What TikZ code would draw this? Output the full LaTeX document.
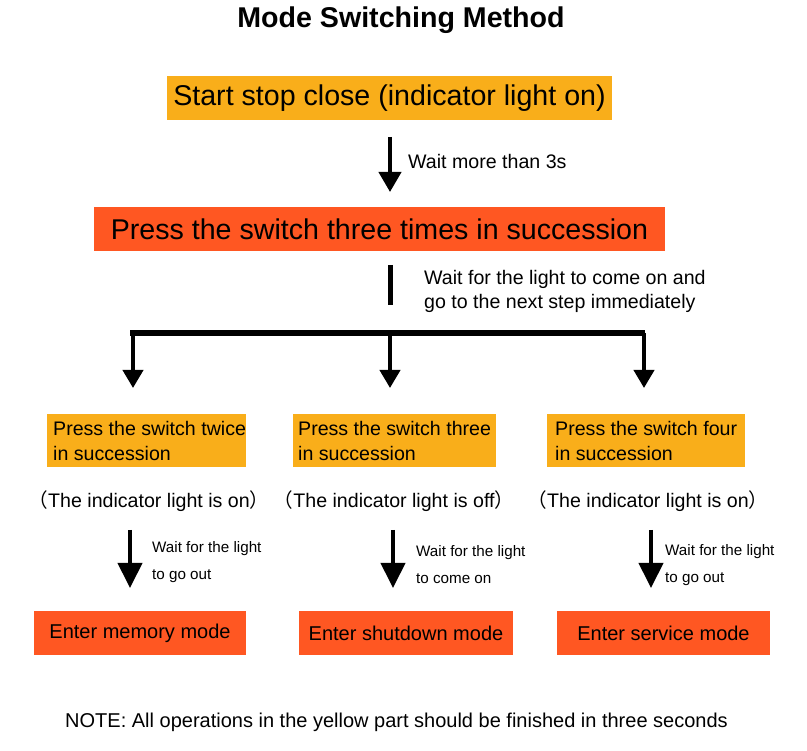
\documentclass[tikz,border=0pt]{standalone}
\usepackage{fontspec}
\setmainfont{Liberation Sans}
\newfontfamily\cjk{Noto Sans CJK SC}
\usetikzlibrary{arrows.meta}
\definecolor{boxyellow}{RGB}{249,174,26}
\definecolor{boxred}{RGB}{255,87,34}
\begin{document}
\begin{tikzpicture}[x=1pt,y=-1pt,
  big/.style={font=\fontsize{28.6}{34}\selectfont},
  med/.style={font=\fontsize{19.6}{24}\selectfont},
  medbox/.style={font=\fontsize{19.6}{25}\selectfont},
  sm/.style={font=\fontsize{15.2}{27}\selectfont},
  bigbox/.style={inner sep=0pt, minimum height=44pt, big},
  ybox/.style={fill=boxyellow, inner sep=0pt, minimum height=53pt},
  rbox/.style={fill=boxred, inner sep=0pt, minimum height=44pt, font=\fontsize{20}{24}\selectfont},
  lbl/.style={anchor=west, inner sep=0pt, align=left},
  arrA/.style={line width=4pt, -{Triangle[width=22pt,length=20pt]}},
  arrB/.style={line width=4pt, -{Triangle[width=20pt,length=18pt]}},
  arrC/.style={line width=4pt, -{Triangle[width=24pt,length=25pt]}}
]
\useasboundingbox (0,0) rectangle (807,751);

% title
\node[inner sep=0pt, font=\fontsize{28.6}{34}\selectfont\bfseries] (title) at (401,20) {Mode Switching Method};

% top boxes
\node[bigbox, fill=boxyellow, minimum width=445pt] (b1) at (389.5,98) {Start stop close (indicator light on)};
\node[bigbox, fill=boxred, minimum width=571pt] (b2) at (379.5,229) {Press the switch three times in succession};

% arrow 1
\coordinate (a1s) at (390,137);
\coordinate (a1e) at (390,192);
\draw[arrA] (a1s) -- (a1e);
\node[lbl, med] (l1) at (408,161) {Wait more than 3s};

% bar
\coordinate (bar1) at (390,265);
\coordinate (bar2) at (390,305);
\draw[line width=5pt] (bar1) -- (bar2);
\node[lbl, med] (l2) at (424,291) {Wait for the light to come on and\\go to the next step immediately};

% split
\coordinate (hL) at (130,333);
\coordinate (hR) at (645,333);
\draw[line width=6pt] (hL) -- (hR);
\coordinate (s1) at (133,333);
\coordinate (s2) at (390,333);
\coordinate (s3) at (644,333);
\coordinate (e1) at (133,388);
\coordinate (e2) at (390,388);
\coordinate (e3) at (644,388);
\draw[arrB] (s1) -- (e1);
\draw[arrB] (s2) -- (e2);
\draw[arrB] (s3) -- (e3);

% yellow boxes
\node[ybox, minimum width=199pt] (y1) at (146.5,440.5) {};
\node[ybox, minimum width=203pt] (y2) at (394.5,440.5) {};
\node[ybox, minimum width=198pt] (y3) at (646,440.5) {};
\node[lbl, medbox] (y1t) at (53,441) {Press the switch twice\\in succession};
\node[lbl, medbox] (y2t) at (298,441) {Press the switch three\\in succession};
\node[lbl, medbox] (y3t) at (555,441) {Press the switch four\\in succession};

% status
\node[med, inner sep=0pt] (p1) at (149,501) {{\cjk （}The indicator light is on{\cjk ）}};
\node[med, inner sep=0pt] (p2) at (394,501) {{\cjk （}The indicator light is off{\cjk ）}};
\node[med, inner sep=0pt] (p3) at (648,501) {{\cjk （}The indicator light is on{\cjk ）}};

% bottom arrows
\coordinate (t1) at (130,530);
\coordinate (t2) at (393,530);
\coordinate (t3) at (651,530);
\coordinate (u1) at (130,588);
\coordinate (u2) at (393,588);
\coordinate (u3) at (651,588);
\draw[arrC] (t1) -- (u1);
\draw[arrC] (t2) -- (u2);
\draw[arrC] (t3) -- (u3);
\node[lbl, sm] (w1) at (152,562) {Wait for the light\\to go out};
\node[lbl, sm] (w2) at (416,565) {Wait for the light\\to come on};
\node[lbl, sm] (w3) at (665,565) {Wait for the light\\to go out};

% red boxes
\node[rbox, minimum width=212pt] (r1) at (140,633) {Enter memory mode};
\node[rbox, minimum width=214pt] (r2) at (406,633) {Enter shutdown mode};
\node[rbox, minimum width=213pt] (r3) at (663.5,633) {Enter service mode};

% note
\node[inner sep=0pt, font=\fontsize{20}{24}\selectfont] (note) at (396.5,722) {NOTE: All operations in the yellow part should be finished in three seconds};
\end{tikzpicture}
\end{document}
